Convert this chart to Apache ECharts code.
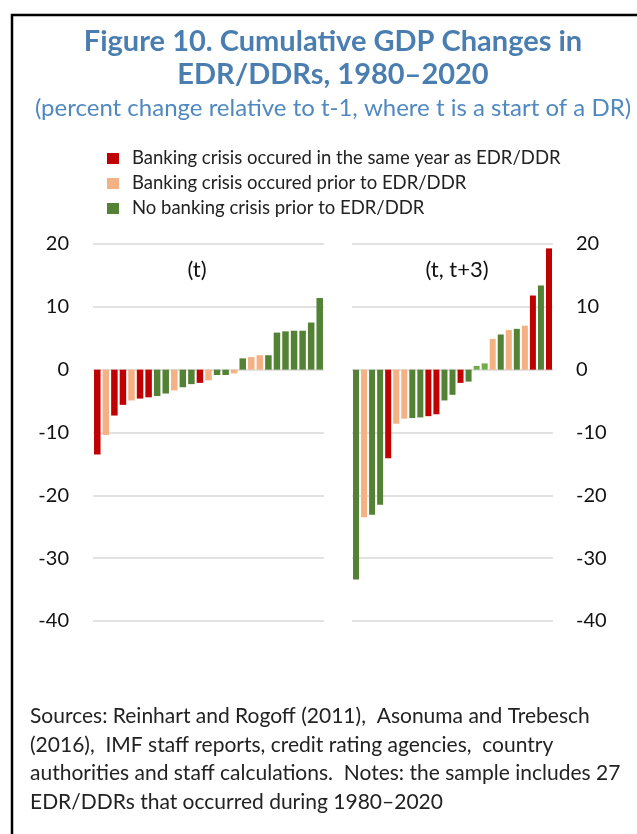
<!DOCTYPE html>
<html>
<head>
<meta charset="utf-8">
<title>Figure 10</title>
<script src="https://cdn.jsdelivr.net/npm/echarts@6/dist/echarts.min.js"></script>
<style>
  html, body { margin: 0; padding: 0; background: #fff; }
  #chart { width: 637px; height: 834px; }
</style>
</head>
<body>
<div id="chart"></div>
<script>
// groups: same = crisis in same year, prior = crisis before, none = no crisis
const groupNames = {
  same: 'Banking crisis occured in the same year as EDR/DDR',
  prior: 'Banking crisis occured prior to EDR/DDR',
  none: 'No banking crisis prior to EDR/DDR'
}
const groupOrder = ['same', 'prior', 'none']

// (t)
const leftValues = [-13.5, -10.4, -7.3, -5.6, -4.9, -4.6, -4.4, -4.2, -3.8, -3.3, -2.8, -2.3, -2.1, -1.7,
  -0.85, -0.85, -0.6, 1.8, 2.0, 2.3, 2.3, 5.9, 6.1, 6.2, 6.2, 7.5, 11.4]
const leftGroups = ['same', 'prior', 'same', 'same', 'prior', 'same', 'same', 'none', 'none', 'prior',
  'none', 'none', 'same', 'prior', 'none', 'none', 'prior', 'none', 'prior', 'prior', 'none', 'none',
  'none', 'none', 'none', 'none', 'none']

// (t, t+3)
const rightValues = [-33.4, -23.5, -23.1, -21.5, -14.1, -8.6, -7.8, -7.7, -7.6, -7.4, -7.1, -4.9, -4.0,
  -2.1, -1.9, 0.6, 1.0, 4.9, 5.6, 6.3, 6.5, 7.0, 11.8, 13.4, 19.3]
const rightGroups = ['none', 'prior', 'none', 'none', 'same', 'prior', 'prior', 'none', 'none', 'same',
  'same', 'none', 'none', 'same', 'none', 'none', 'none', 'prior', 'none', 'prior', 'none', 'prior',
  'same', 'none', 'same']

const titleLines = ['Figure 10. Cumulative GDP Changes in', 'EDR/DDRs, 1980\u20132020']
const subtitle = '(percent change relative to t-1, where t is a start of a DR)'
const sourcesText = [
  'Sources: Reinhart and Rogoff (2011),  Asonuma and Trebesch',
  '(2016),  IMF staff reports, credit rating agencies,  country',
  'authorities and staff calculations.  Notes: the sample includes 27',
  'EDR/DDRs that occurred during 1980\u20132020'
]

const colors = { same: '#C00000', prior: '#F4B183', none: '#548235' }
const lightGreen = '#70AD47'
const lightGreenRight = [15, 16] // the two small positive bars are a lighter green
const FONT = 'Lato'
const CX = 333 // visual centre of the (cropped) figure

function panelSeries(values, groups, axisIdx, barWidth, lightIdx) {
  return groupOrder.map(g => ({
    name: groupNames[g],
    type: 'bar',
    xAxisIndex: axisIdx,
    yAxisIndex: axisIdx,
    barWidth: barWidth,
    barGap: '-100%',
    itemStyle: { color: colors[g] },
    data: values.map((v, i) => {
      if (groups[i] !== g) return '-'
      if (lightIdx && lightIdx.indexOf(i) >= 0) {
        return { value: v, itemStyle: { color: lightGreen } }
      }
      return v
    })
  }))
}

const chart = echarts.init(document.getElementById('chart'))

const yAxisBase = {
  type: 'value',
  min: -40,
  max: 20,
  interval: 10,
  axisLine: { show: false },
  axisTick: { show: false },
  splitLine: { show: true, lineStyle: { color: '#D9D9D9', width: 1.5 } },
  axisLabel: { fontFamily: FONT, fontSize: 20, color: '#111' }
}

chart.setOption({
  animation: false,
  textStyle: { fontFamily: FONT },
  legend: {
    orient: 'vertical',
    left: 102,
    top: 144,
    itemWidth: 12,
    itemHeight: 11,
    itemGap: 6,
    icon: 'rect',
    selectedMode: false,
    data: groupOrder.map(g => groupNames[g]),
    textStyle: { fontFamily: FONT, fontSize: 18.5, lineHeight: 19, color: '#222', padding: [0, 0, 0, 8] }
  },
  grid: [
    { left: 93, top: 244, width: 231, height: 377 },
    { left: 352, top: 244, width: 201, height: 377 }
  ],
  xAxis: [
    { type: 'category', gridIndex: 0, data: leftValues.map((v, i) => i + 1), show: false },
    { type: 'category', gridIndex: 1, data: rightValues.map((v, i) => i + 1), show: false }
  ],
  yAxis: [
    Object.assign({}, yAxisBase, { gridIndex: 0, position: 'left', axisLabel: Object.assign({}, yAxisBase.axisLabel, { margin: 24 }) }),
    Object.assign({}, yAxisBase, { gridIndex: 1, position: 'right', axisLabel: Object.assign({}, yAxisBase.axisLabel, { margin: 23 }) })
  ],
  series: [].concat(
    panelSeries(leftValues, leftGroups, 0, 6.5, null),
    panelSeries(rightValues, rightGroups, 1, 6, lightGreenRight)
  ),
  graphic: [
    {
      type: 'rect',
      shape: { x: 12, y: 15, width: 700, height: 900 },
      style: { fill: 'none', stroke: '#000', lineWidth: 2.5 },
      silent: true
    },
    {
      type: 'text', x: CX, y: 42,
      style: { text: titleLines[0], font: 'bold 29px ' + FONT, fill: '#4A7EB0', align: 'center', verticalAlign: 'middle' }
    },
    {
      type: 'text', x: CX, y: 75,
      style: { text: titleLines[1], font: 'bold 29px ' + FONT, fill: '#4A7EB0', align: 'center', verticalAlign: 'middle' }
    },
    {
      type: 'text', x: CX, y: 108,
      style: { text: subtitle, font: '24px ' + FONT, fill: '#5088C0', align: 'center', verticalAlign: 'middle' }
    },
    {
      type: 'text', x: 197, y: 270,
      style: { text: '(t)', font: '22px ' + FONT, fill: '#111', align: 'center', verticalAlign: 'middle' }
    },
    {
      type: 'text', x: 457, y: 270,
      style: { text: '(t, t+3)', font: '22px ' + FONT, fill: '#111', align: 'center', verticalAlign: 'middle' }
    },
    {
      type: 'text', x: 30, y: 702,
      style: { text: sourcesText.join('\n'), font: '21px ' + FONT, fill: '#222', lineHeight: 28.5 }
    }
  ]
})
</script>
</body>
</html>
